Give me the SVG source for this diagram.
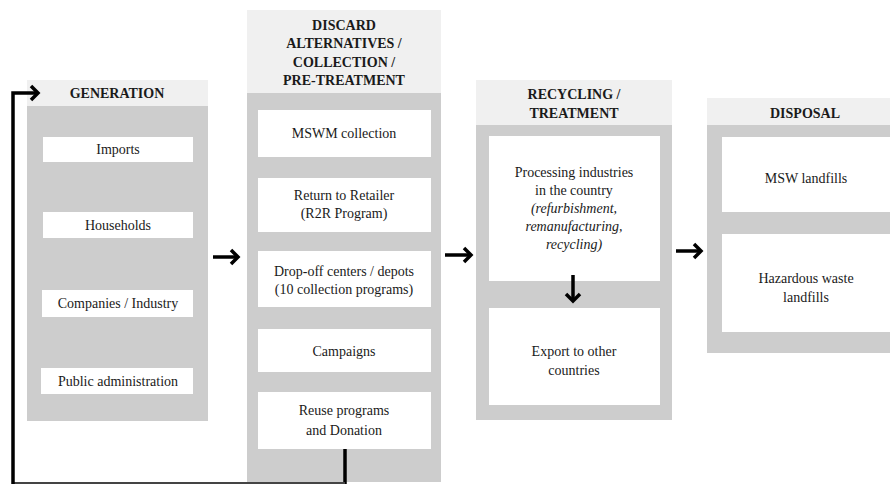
<svg xmlns="http://www.w3.org/2000/svg" width="890" height="485" viewBox="0 0 890 485" font-family="Liberation Serif, DejaVu Serif, serif">
<style>
.hdr{fill:#f0f0f0}
.body{fill:#cdcdcd}
.box{fill:#ffffff}
text{font-size:14px;fill:#1a1a1a;text-anchor:middle}
.h{font-weight:bold;font-size:14px}
.i{font-style:italic}
.ar{fill:none;stroke:#000;stroke-width:3.5}
.hd{fill:none;stroke:#000;stroke-width:3.5;stroke-linejoin:miter}
</style>
<rect width="890" height="485" fill="#ffffff"/>
<g id="generation">
<rect class="hdr" x="27" y="80" width="181" height="26"/>
<rect class="body" x="27" y="106" width="181" height="315"/>
<text class="h" x="117" y="98" font-family="Liberation Serif, serif">GENERATION</text>
<rect class="box" x="43" y="137" width="150" height="25"/>
<text x="118" y="154" font-family="Liberation Serif, serif">Imports</text>
<rect class="box" x="43" y="212" width="150" height="26"/>
<text x="118" y="230" font-family="Liberation Serif, serif">Households</text>
<rect class="box" x="42" y="290" width="151" height="27"/>
<text x="118" y="308" font-family="Liberation Serif, serif">Companies / Industry</text>
<rect class="box" x="41" y="368" width="152" height="26"/>
<text x="118" y="386" font-family="Liberation Serif, serif">Public administration</text>
</g>
<g id="collection" font-family="Liberation Serif, serif">
<rect class="hdr" x="247" y="10" width="194" height="83"/>
<rect class="body" x="247" y="93" width="194" height="389"/>
<text class="h" x="344" y="30">DISCARD</text>
<text class="h" x="344" y="48">ALTERNATIVES  /</text>
<text class="h" x="344" y="67">COLLECTION  /</text>
<text class="h" x="344" y="85">PRE-TREATMENT</text>
<rect class="box" x="258" y="110" width="173" height="47"/>
<text x="344" y="138">MSWM collection</text>
<rect class="box" x="258" y="178" width="173" height="54"/>
<text x="344" y="200">Return to Retailer</text>
<text x="344" y="218">(R2R Program)</text>
<rect class="box" x="258" y="251" width="173" height="56"/>
<text x="344" y="276">Drop-off centers / depots</text>
<text x="344" y="294">(10 collection programs)</text>
<rect class="box" x="258" y="329" width="173" height="43"/>
<text x="344" y="356">Campaigns</text>
<rect class="box" x="258" y="392" width="173" height="57"/>
<text x="344" y="415">Reuse programs</text>
<text x="344" y="435">and Donation</text>
</g>
<g id="recycling" font-family="Liberation Serif, serif">
<rect class="hdr" x="476" y="80" width="196" height="45"/>
<rect class="body" x="476" y="125" width="196" height="295"/>
<text class="h" x="574" y="99">RECYCLING  /</text>
<text class="h" x="574" y="118">TREATMENT</text>
<rect class="box" x="489" y="136" width="171" height="145"/>
<text x="574" y="177">Processing  industries</text>
<text x="574" y="195">in the country</text>
<text class="i" x="574" y="213">(refurbishment,</text>
<text class="i" x="574" y="231">remanufacturing,</text>
<text class="i" x="574" y="249">recycling)</text>
<rect class="box" x="489" y="308" width="171" height="97"/>
<text x="574" y="356">Export to other</text>
<text x="574" y="375">countries</text>
</g>
<g id="disposal" font-family="Liberation Serif, serif">
<rect class="hdr" x="707" y="98" width="190" height="27"/>
<rect class="body" x="707" y="125" width="190" height="228"/>
<text class="h" x="805" y="118">DISPOSAL</text>
<rect class="box" x="722" y="137" width="175" height="75"/>
<text x="806" y="183">MSW landfills</text>
<rect class="box" x="722" y="234" width="175" height="98"/>
<text x="806" y="283">Hazardous  waste</text>
<text x="806" y="302">landfills</text>
</g>
<g id="connectors">
<line class="ar" x1="213" y1="257" x2="238" y2="257"/>
<polyline class="hd" points="231,250 238,257 231,264"/>
<line class="ar" x1="445" y1="255" x2="471" y2="255"/>
<polyline class="hd" points="464,248 471,255 464,262"/>
<line class="ar" x1="676" y1="251" x2="701" y2="251"/>
<polyline class="hd" points="694,244 701,251 694,258"/>
<line class="ar" x1="573" y1="275" x2="573" y2="301"/>
<polyline class="hd" points="566,294 573,301 580,294"/>
<line class="ar" x1="345" y1="449" x2="345" y2="484"/>
<line x1="13" y1="483" x2="345" y2="483" stroke="#444" stroke-width="2"/>
<polyline class="ar" points="13,484 13,93 38,93"/>
<polyline class="hd" points="31,86 38,93 31,100"/>
</g>
</svg>
